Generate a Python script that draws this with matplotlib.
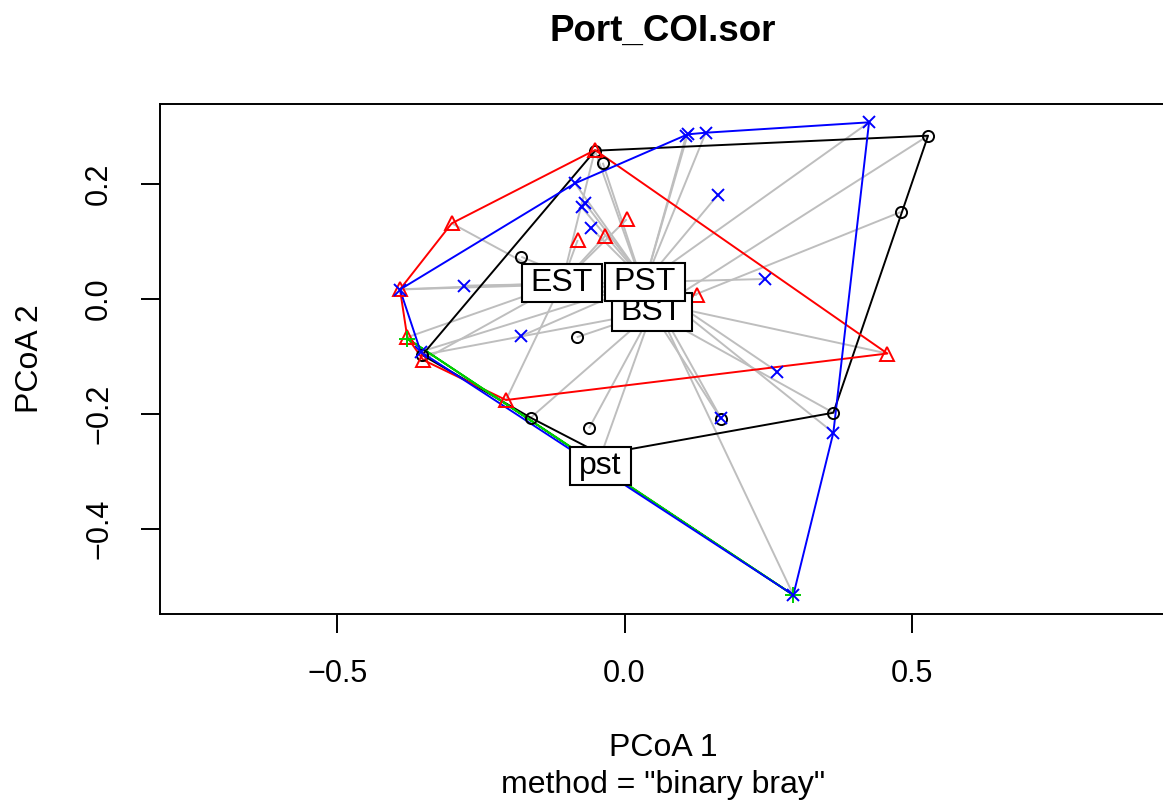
import numpy as np
import matplotlib
matplotlib.use("Agg")
import matplotlib.pyplot as plt
from matplotlib.patches import Rectangle
from matplotlib.transforms import IdentityTransform

plt.rcParams['font.family'] = ['Liberation Sans', 'DejaVu Sans']

# ---------------- data ----------------
groups = ["BST", "EST", "pst", "PST"]

bst_x = [-0.0513, -0.0379, -0.1796, -0.0832, -0.3519, -0.1632, -0.0618,
         0.1679, 0.3634, 0.4807, 0.5282, -0.0404]
bst_y = [0.2574, 0.2365, 0.0730, -0.0671, -0.0979, -0.2070, -0.2254,
         -0.2092, -0.1983, 0.1508, 0.2835, -0.2706]

est_x = [-0.0513, -0.3007, -0.3907, -0.0814, -0.0334, 0.0038, 0.1257,
         0.4574, -0.2062, -0.3502, -0.3780]
est_y = [0.2586, 0.1311, 0.0163, 0.1021, 0.1096, 0.1381, 0.0064,
         -0.0953, -0.1762, -0.1066, -0.0671]

pstl_x = [-0.3780, 0.2938]
pstl_y = [-0.0692, -0.5153]

pstu_x = [-0.3907, -0.2793, -0.0861, -0.0687, -0.0745, -0.0588, -0.1796,
          -0.3547, 0.1070, 0.1100, 0.1413, 0.4255, 0.1622, 0.2450, 0.2659,
          0.1679, 0.3634, 0.2938]
pstu_y = [0.0160, 0.0226, 0.2007, 0.1659, 0.1590, 0.1235, -0.0649,
          -0.0922, 0.2830, 0.2859, 0.2887, 0.3068, 0.1803, 0.0343, -0.1270,
          -0.2080, -0.2330, -0.5153]

cent_x = [0.0479, -0.1088, -0.0418, 0.0357]
cent_y = [-0.0229, 0.0273, -0.2917, 0.0290]

xticks = [-0.5, 0.0, 0.5]
yticks = [-0.4, -0.2, 0.0, 0.2]

# ---------------- style ----------------
colors = ["black", "#FF0000", "#00CD00", "#0000FF"]
markers = ["o", "^", "+", "x"]
msizes = [8, 10.5, 11, 9]

W, H = 1163, 805
fig = plt.figure(figsize=(W / 100, H / 100), dpi=100)
ax = fig.add_axes([159.6 / W, (H - 613.8) / H, (1167 - 159.6) / W, (613.8 - 103.8) / H])
ax.set_xlim(-0.809, 0.944)
ax.set_ylim(-0.548, 0.339)


def hull(xs, ys):
    pts = sorted(set(zip(xs, ys)))
    if len(pts) < 3:
        return pts

    def cross(o, a, b):
        return (a[0] - o[0]) * (b[1] - o[1]) - (a[1] - o[1]) * (b[0] - o[0])
    lower, upper = [], []
    for p in pts:
        while len(lower) >= 2 and cross(lower[-2], lower[-1], p) <= 0:
            lower.pop()
        lower.append(p)
    for p in reversed(pts):
        while len(upper) >= 2 and cross(upper[-2], upper[-1], p) <= 0:
            upper.pop()
        upper.append(p)
    return lower[:-1] + upper[:-1]


data = [(bst_x, bst_y), (est_x, est_y), (pstl_x, pstl_y), (pstu_x, pstu_y)]

# segments to centroids
for g, (xs, ys) in enumerate(data):
    for x, y in zip(xs, ys):
        ax.plot([x, cent_x[g]], [y, cent_y[g]], color="#BEBEBE", lw=1.4, zorder=1,
                solid_capstyle="butt")

# hulls
for g, (xs, ys) in enumerate(data):
    h = hull(xs, ys)
    hx = [p[0] for p in h] + [h[0][0]]
    hy = [p[1] for p in h] + [h[0][1]]
    ax.plot(hx, hy, color=colors[g], lw=1.4, zorder=2 + g * 0.1)

# points
for g, (xs, ys) in enumerate(data):
    if markers[g] in ("o", "^"):
        ax.plot(xs, ys, linestyle="none", marker=markers[g], markersize=msizes[g],
                markerfacecolor="none", markeredgecolor=colors[g], markeredgewidth=1.4,
                zorder=3)
    else:
        ax.plot(xs, ys, linestyle="none", marker=markers[g], markersize=msizes[g],
                color=colors[g], markeredgewidth=1.4, zorder=3)

# centroid labels with boxes
fig.canvas.draw()
renderer = fig.canvas.get_renderer()
for i, g in enumerate([0, 1, 2, 3]):
    t = ax.text(cent_x[g], cent_y[g], groups[g], ha="center", va="center",
                fontsize=23, zorder=11 + 2 * i)
    bb = t.get_window_extent(renderer)
    cx, cy = ax.transData.transform((cent_x[g], cent_y[g]))
    w = bb.width + 18
    h = 38
    r = Rectangle((cx - w / 2, cy - h / 2), w, h, transform=IdentityTransform(),
                  facecolor="white", edgecolor="black", lw=1.5, zorder=10 + 2 * i)
    ax.add_artist(r)

ax.set_xticks(xticks)
ax.set_xticklabels(["\u22120.5", "0.0", "0.5"])
ax.set_yticks(yticks)
ax.set_yticklabels(["\u22120.4", "\u22120.2", "0.0", "0.2"])
ax.tick_params(direction="out", length=13.7, width=1.4, labelsize=22, pad=19)
for lab in ax.get_yticklabels():
    lab.set_rotation(90)
    lab.set_va("center")
for s in ax.spines.values():
    s.set_linewidth(1.4)

fig.text(663 / W, 1 - 41 / H, "Port_COI.sor", ha="center", va="baseline",
         fontsize=26.5, fontweight="bold")
fig.text(663 / W, 1 - 748 / H, "PCoA 1", ha="center", va="center", fontsize=23)
fig.text(663 / W, 1 - 785 / H, 'method = "binary bray"', ha="center", va="center",
         fontsize=23)
fig.text(30 / W, 1 - 358.8 / H, "PCoA 2", ha="center", va="center", fontsize=23,
         rotation=90)

fig.savefig("out.png", dpi=100)
